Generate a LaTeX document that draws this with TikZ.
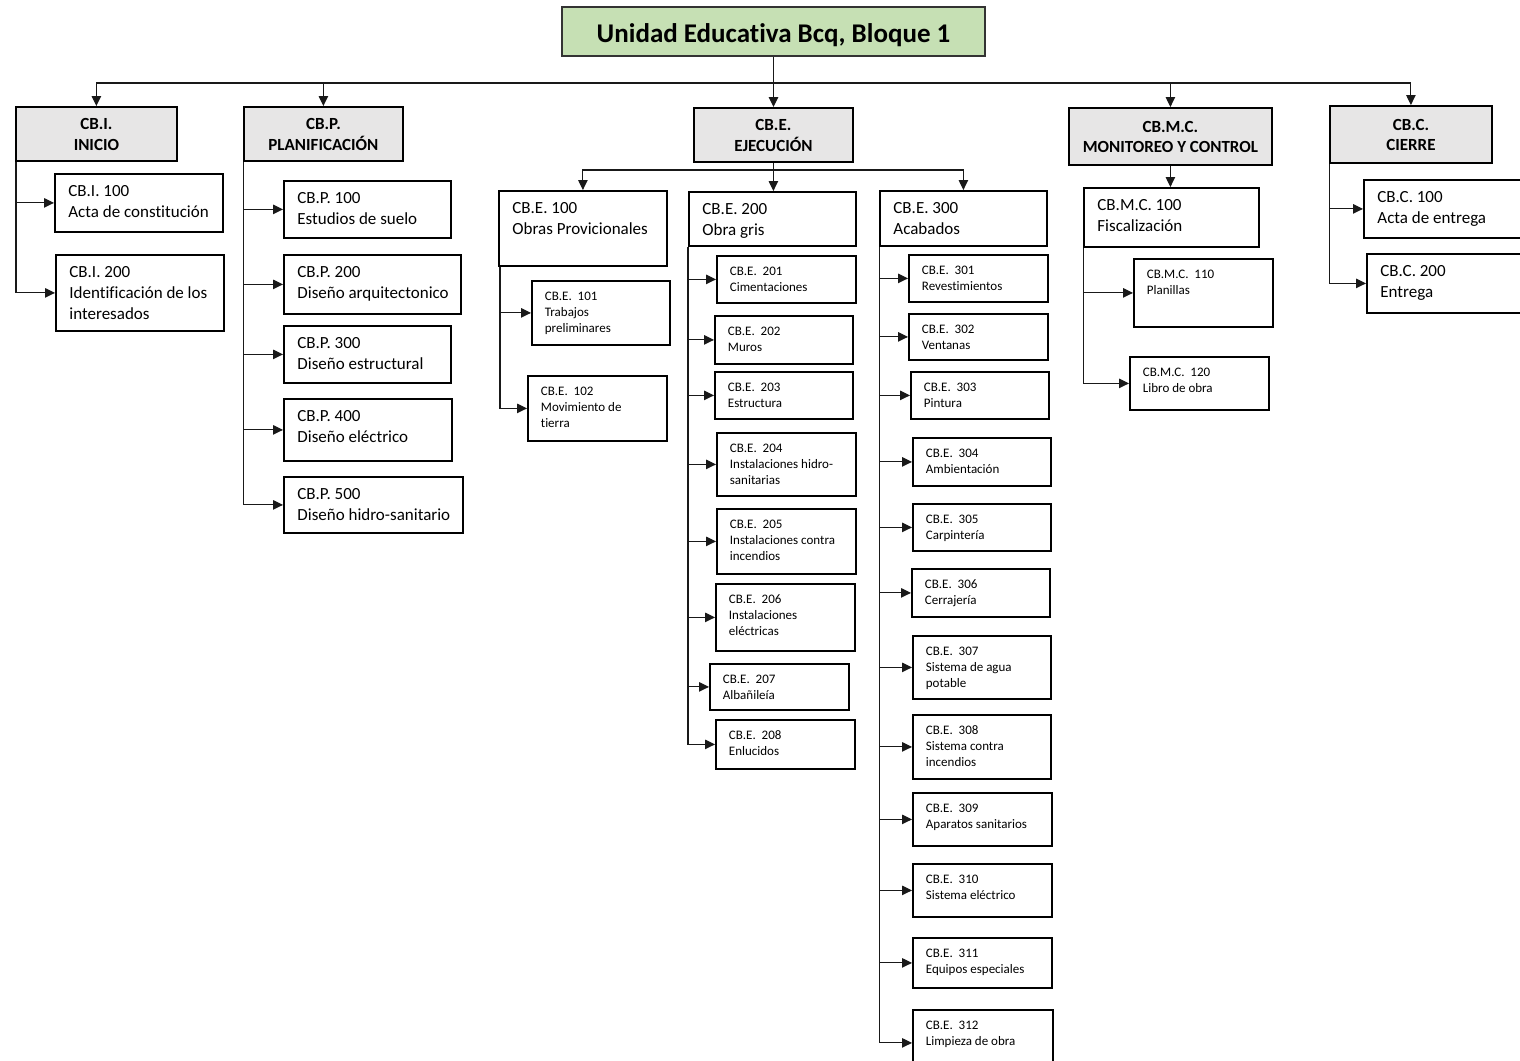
\documentclass[tikz,border=0pt]{standalone}
\usepackage{fontspec}
\setmainfont{Carlito}[Ligatures=NoCommon]
\usetikzlibrary{arrows.meta}
\definecolor{titlegreen}{HTML}{C6E0B4}
\definecolor{headgray}{HTML}{E7E6E6}
\tikzset{
  bigbox/.style={draw=black, line width=1.8pt, anchor=north west, inner xsep=13.5pt, inner ysep=0pt,
    text height=23pt, font=\fontsize{17}{20.7}\selectfont},
  smallbox/.style={draw=black, line width=1.8pt, anchor=north west, inner xsep=13pt, inner ysep=0pt,
    text height=20pt, font=\fontsize{13}{16}\selectfont},
  headbox/.style={draw=black, line width=1.8pt, fill=headgray, anchor=north west, inner sep=0pt,
    font=\bfseries\fontsize{17}{20.5}\selectfont},
  titlebox/.style={draw=black!80, line width=1.8pt, fill=titlegreen, inner sep=0pt,
    minimum width=423pt, minimum height=49pt, font=\bfseries\fontsize{27}{32}\selectfont},
  arr/.style={draw=black!90, line width=1.1pt, -{Triangle[length=10pt,width=9.5pt]}},
}
% big box: name, x1, y1, x2, y2, lines
\newcommand\BB[6]{\pgfmathsetmacro\bw{#4-#2-27}\pgfmathsetmacro\bd{#5-#3-23}%
  \node[bigbox, text depth=\bd pt] (#1) at (#2,#3) {\makebox[\bw pt][l]{\begin{tabular}[t]{@{}l@{}}#6\end{tabular}}};}
\newcommand\SB[6]{\pgfmathsetmacro\bw{#4-#2-26}\pgfmathsetmacro\bd{#5-#3-20}%
  \node[smallbox, text depth=\bd pt] (#1) at (#2,#3) {\makebox[\bw pt][l]{\begin{tabular}[t]{@{}l@{}}#6\end{tabular}}};}
\newcommand\HB[6]{\pgfmathsetmacro\bw{#4-#2}\pgfmathsetmacro\bh{(#5-#3)/2-4}\pgfmathsetmacro\bd{(#5-#3)/2+4}%
  \node[headbox, text height=\bh pt, text depth=\bd pt] (#1) at (#2,#3) {\makebox[\bw pt][c]{\begin{tabular}[t]{@{}c@{}}#6\end{tabular}}};}
\begin{document}
\begin{tikzpicture}[x=1pt,y=-1pt]
\useasboundingbox (0,0) rectangle (1520,1060);
\clip (0,0) rectangle (1520,1060);
\fill[white] (0,0) rectangle (1520,1060);

% title
\node[titlebox, text height=35pt, text depth=14pt] (title) at (773.5,31.5) {Unidad Educativa Bcq, Bloque 1};

% level 1
\HB{cbi}{15}{106}{176}{160}{CB.I.\\INICIO}
\HB{cbp}{243}{106}{402}{160}{CB.P.\\PLANIFICACIÓN}
\HB{cbe}{693}{107}{852}{161}{CB.E.\\EJECUCIÓN}
\HB{cbmc}{1068}{107}{1271}{164}{CB.M.C.\\MONITOREO Y CONTROL}
\HB{cbc}{1329}{105}{1491}{162}{CB.C.\\CIERRE}

% inicio
\BB{cbi100}{54}{173}{222}{231}{CB.I. 100\\Acta de constitución}
\BB{cbi200}{55}{254}{223}{330}{CB.I. 200\\Identificación de los\\interesados}

% planificacion
\BB{cbp100}{283}{180}{450}{237}{CB.P. 100\\Estudios de suelo}
\BB{cbp200}{283}{254}{460}{313}{CB.P. 200\\Diseño arquitectonico}
\BB{cbp300}{283}{325}{450}{382}{CB.P. 300\\Diseño estructural}
\BB{cbp400}{283}{398}{451}{460}{CB.P. 400\\Diseño eléctrico}
\BB{cbp500}{283}{476}{462}{532}{CB.P. 500\\Diseño hidro-sanitario}

% ejecucion
\BB{cbe100}{498}{190}{666}{265}{CB.E. 100\\Obras Provicionales}
\BB{cbe200}{688}{191}{855}{245}{CB.E. 200\\Obra gris}
\BB{cbe300}{879}{190}{1046}{245}{CB.E. 300\\Acabados}

\SB{cbe101}{531}{280}{669}{344}{CB.E.\ \ 101\\Trabajos\\preliminares}
\SB{cbe102}{527}{375}{666}{440}{CB.E.\ \ 102\\Movimiento de\\tierra}

\SB{cbe201}{716}{255}{855}{302}{CB.E.\ \ 201\\Cimentaciones}
\SB{cbe202}{714}{315}{852}{363}{CB.E.\ \ 202\\Muros}
\SB{cbe203}{714}{371}{852}{418}{CB.E.\ \ 203\\Estructura}
\SB{cbe204}{716}{432}{855}{495}{CB.E.\ \ 204\\Instalaciones hidro-\\sanitarias}
\SB{cbe205}{716}{508}{855}{573}{CB.E.\ \ 205\\Instalaciones contra\\incendios}
\SB{cbe206}{715}{583}{854}{650}{CB.E.\ \ 206\\Instalaciones\\eléctricas}
\SB{cbe207}{709}{663}{848}{709}{CB.E.\ \ 207\\Albañileía}
\SB{cbe208}{715}{719}{854}{768}{CB.E.\ \ 208\\Enlucidos}

\SB{cbe301}{908}{254}{1047}{301}{CB.E.\ \ 301\\Revestimientos}
\SB{cbe302}{908}{313}{1047}{359}{CB.E.\ \ 302\\Ventanas}
\SB{cbe303}{910}{371}{1048}{418}{CB.E.\ \ 303\\Pintura}
\SB{cbe304}{912}{437}{1050}{485}{CB.E.\ \ 304\\Ambientación}
\SB{cbe305}{912}{503}{1050}{550}{CB.E.\ \ 305\\Carpintería}
\SB{cbe306}{911}{568}{1049}{616}{CB.E.\ \ 306\\Cerrajería}
\SB{cbe307}{912}{635}{1050}{698}{CB.E.\ \ 307\\Sistema de agua\\potable}
\SB{cbe308}{912}{714}{1050}{778}{CB.E.\ \ 308\\Sistema contra\\incendios}
\SB{cbe309}{912}{792}{1051}{845}{CB.E.\ \ 309\\Aparatos sanitarios}
\SB{cbe310}{912}{863}{1051}{916}{CB.E.\ \ 310\\Sistema eléctrico}
\SB{cbe311}{912}{937}{1051}{987}{CB.E.\ \ 311\\Equipos especiales}
\SB{cbe312}{912}{1009}{1052}{1075}{CB.E.\ \ 312\\Limpieza de obra}

% monitoreo y control
\BB{cbmc100}{1083}{187}{1258}{246}{CB.M.C. 100\\Fiscalización}
\SB{cbmc110}{1133}{258}{1272}{326}{CB.M.C.\ \ 110\\Planillas}
\SB{cbmc120}{1129}{356}{1268}{409}{CB.M.C.\ \ 120\\Libro de obra}

% cierre
\BB{cbc100}{1363}{179}{1545}{237}{CB.C. 100\\Acta de entrega}
\BB{cbc200}{1366}{253}{1545}{312}{CB.C. 200\\Entrega}

% connectors: top level
\coordinate (bus) at (773.5,83);
\draw[arr] (title.south) -- (title.south |- cbe.north);
\foreach \n in {cbi,cbp,cbmc,cbc} \draw[arr] (bus) -| (\n.north);

% inicio
\foreach \n in {cbi100,cbi200} \draw[arr] ([xshift=1pt]cbi.south west) |- (\n.west);
% planificacion
\foreach \n in {cbp100,cbp200,cbp300,cbp400,cbp500} \draw[arr] ([xshift=0.5pt]cbp.south west) |- (\n.west);
% ejecucion
\coordinate (ebus) at (773,170);
\draw[arr] (cbe.south) -- (cbe.south |- cbe200.north);
\foreach \n in {cbe100,cbe300} \draw[arr] (ebus) -| (\n.north);
\foreach \n in {cbe101,cbe102} \draw[arr] ([xshift=2pt]cbe100.south west) |- (\n.west);
\foreach \n in {cbe201,cbe202,cbe203,cbe204,cbe205,cbe206,cbe207,cbe208}
  \draw[arr] ([xshift=0pt]cbe200.south west) |- (\n.west);
\foreach \n in {cbe301,cbe302,cbe303,cbe304,cbe305,cbe306,cbe307,cbe308,cbe309,cbe310,cbe311,cbe312}
  \draw[arr] ([xshift=0.5pt]cbe300.south west) |- (\n.west);
% monitoreo
\draw[arr] (cbmc.south) -- (cbmc.south |- cbmc100.north);
\foreach \n in {cbmc110,cbmc120} \draw[arr] ([xshift=0.5pt]cbmc100.south west) |- (\n.west);
% cierre
\foreach \n in {cbc100,cbc200} \draw[arr] ([xshift=0.5pt]cbc.south west) |- (\n.west);
\end{tikzpicture}
\end{document}
